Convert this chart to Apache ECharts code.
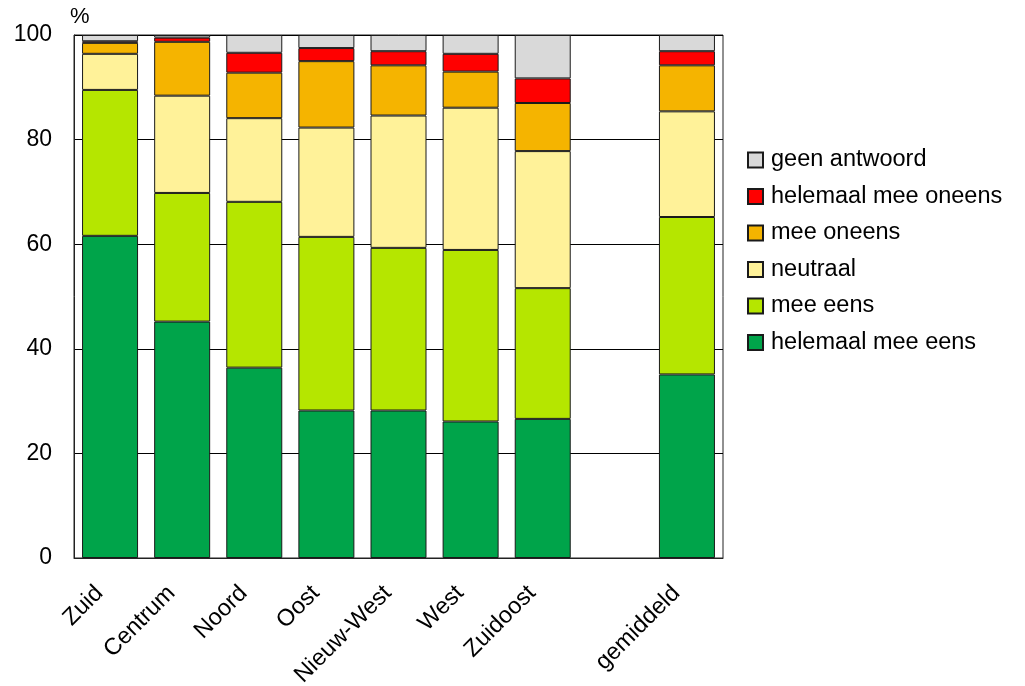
<!DOCTYPE html>
<html>
<head>
<meta charset="utf-8">
<script src="https://cdn.jsdelivr.net/npm/echarts@6/dist/echarts.min.js"></script>
<style>
html,body{margin:0;padding:0;background:#fff;}
#chart{width:1025px;height:686px;}
</style>
</head>
<body>
<div id="chart"></div>
<script>
const categories = ['Zuid', 'Centrum', 'Noord', 'Oost', 'Nieuw-West', 'West', 'Zuidoost', '', 'gemiddeld'];
const helemaalMeeEens   = [61.6, 45.2, 36.4, 28.2, 28.2, 26.1, 26.6, null, 35.1];
const meeEens           = [27.9, 24.6, 31.7, 33.2, 31.1, 32.8, 25.0, null, 30.1];
const neutraal          = [6.9, 18.6, 16.0, 20.9, 25.3, 27.2, 26.2, null, 20.2];
const meeOneens         = [2.1, 10.3, 8.7, 12.7, 9.6, 6.9, 9.2, null, 8.8];
const helemaalMeeOneens = [0.3, 0.8, 3.8, 2.5, 2.7, 3.4, 4.7, null, 2.7];
const geenAntwoord      = [1.2, 0.5, 3.4, 2.5, 3.1, 3.6, 8.3, null, 3.1];
const yTicks = [0, 20, 40, 60, 80, 100];

const seriesDefs = [
  ['helemaal mee eens', helemaalMeeEens, '#00A44A'],
  ['mee eens', meeEens, '#B5E600'],
  ['neutraal', neutraal, '#FFF299'],
  ['mee oneens', meeOneens, '#F5B400'],
  ['helemaal mee oneens', helemaalMeeOneens, '#FF0000'],
  ['geen antwoord', geenAntwoord, '#D9D9D9']
];

const font = 'Liberation Sans, Arial, sans-serif';
const chart = echarts.init(document.getElementById('chart'), null, {renderer: 'canvas'});
chart.setOption({
  animation: false,
  backgroundColor: '#fff',
  textStyle: {fontFamily: font},
  grid: {left: 74, right: 302, top: 35, bottom: 128, show: true, borderColor: '#222', borderWidth: 1, containLabel: false, outerBoundsMode: 'none'},
  legend: {
    data: seriesDefs.map(s => s[0]).reverse(),
    orient: 'vertical',
    left: 747,
    top: 148,
    padding: 0,
    itemWidth: 15,
    itemHeight: 15,
    itemGap: 12.5,
    textStyle: {fontFamily: font, fontSize: 23.5, color: '#000', padding: [0, 0, 0, 3]},
    icon: 'rect'
  },
  xAxis: {
    type: 'category',
    data: categories,
    axisTick: {show: false},
    axisLine: {lineStyle: {color: '#222', width: 1}},
    axisLabel: {rotate: 45, fontSize: 23.5, color: '#000', fontFamily: font, margin: 21, interval: 0, padding: [0, 15, 0, 0]}
  },
  yAxis: {
    type: 'value',
    min: yTicks[0],
    max: yTicks[yTicks.length - 1],
    interval: 20,
    name: '%',
    nameLocation: 'end',
    nameGap: 7,
    nameTextStyle: {fontSize: 22, color: '#000', fontFamily: font, align: 'left', padding: [0, 0, 0, -4]},
    axisLine: {show: true, lineStyle: {color: '#222', width: 1}},
    axisTick: {show: false},
    axisLabel: {fontSize: 23, color: '#000', fontFamily: font, margin: 22},
    splitLine: {show: true, lineStyle: {color: '#000', width: 1}}
  },
  series: seriesDefs.map(([name, data, color]) => ({
    name: name,
    type: 'bar',
    stack: 'total',
    data: data,
    barWidth: 56,
    itemStyle: {color: color, borderColor: '#1a1a1a', borderWidth: 1}
  }))
});
</script>
</body>
</html>
